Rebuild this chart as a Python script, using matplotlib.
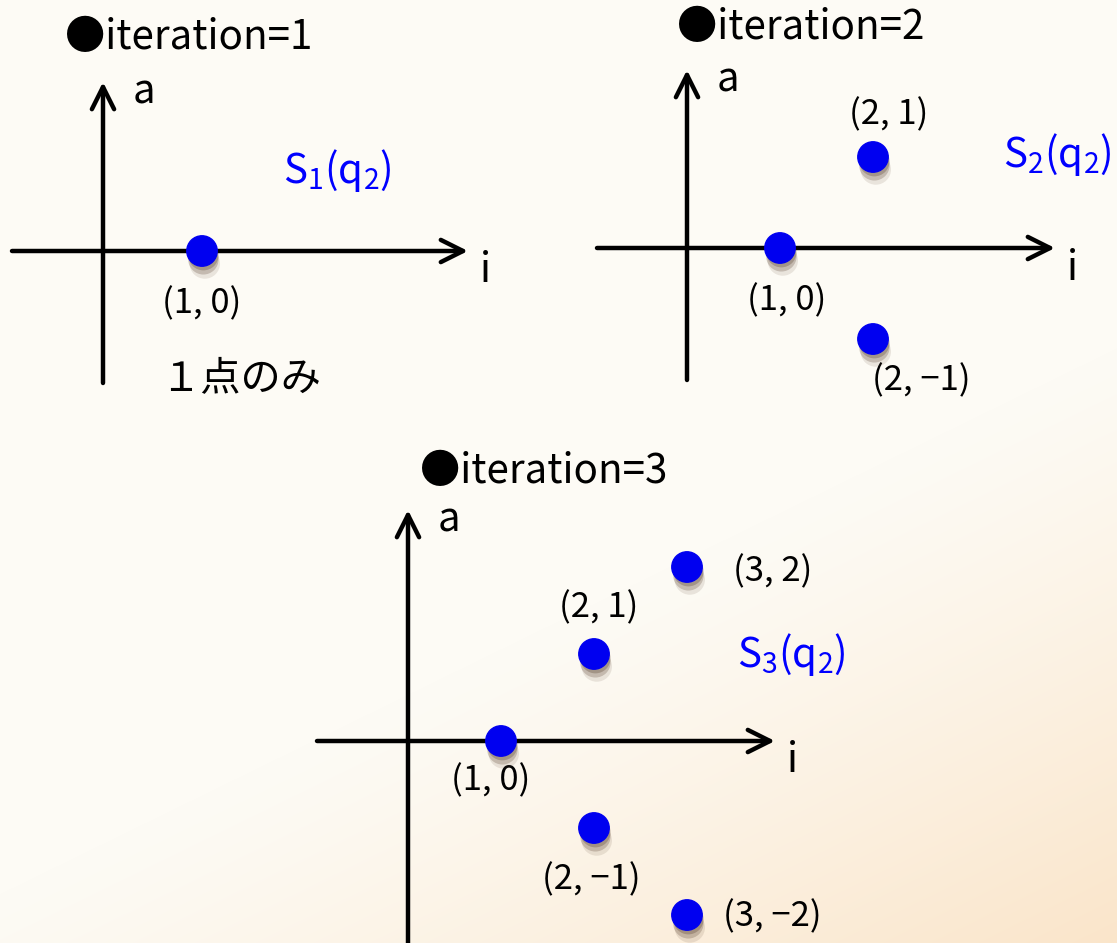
import matplotlib
matplotlib.use("Agg")
import matplotlib.pyplot as plt
import matplotlib.patheffects as pe
import numpy as np

plt.rcParams['font.family'] = ['Noto Sans CJK JP', 'DejaVu Sans']

W, H = 1117, 943

# points of S_n(q2) for each iteration (i, a)
iters = [1, 2, 3]
pts_i = [[1], [1, 2, 2], [1, 2, 2, 3, 3]]
pts_a = [[0], [0, 1, -1], [0, 1, -1, 2, -2]]
notes = ["１点のみ", "", ""]

# panel layout in pixels: origin x, origin y (from top), px per unit i, px per unit a
origin = [(103, 251), (687, 248), (408, 741)]
scale = [(99, 90), (93, 91), (93, 87)]
xaxis_px = [(12, 468), (597, 1055), (317, 775)]
yaxis_px = [(383, 82), (380, 70), (960, 510)]
# label offsets (pixels) for each point
lab_off = [
    [(0, -53)],
    [(7, -53), (16, 42), (48, -42)],
    [(-10, -40), (5, 46), (-3, -52), (86, -5), (85, -2)],
]
title_pos = [(65, 37), (677, 28), (420, 472)]
s_pos = [(283, 170), (1003, 155), (737, 655)]

fig = plt.figure(figsize=(W / 100, H / 100), dpi=100)

# background gradient
bg = fig.add_axes([0, 0, 1, 1])
yy, xx = np.mgrid[0:H, 0:W]
t = np.clip((xx / W * 0.55 + yy / H * 0.95 - 0.9) / 0.6, 0, 1) ** 1.2
c0 = np.array([253, 251, 245]) / 255
c1 = np.array([250, 229, 202]) / 255
img = c0[None, None, :] * (1 - t[..., None]) + c1[None, None, :] * t[..., None]
bg.imshow(img, extent=(0, W, H, 0), aspect='auto')
bg.set_xlim(0, W)
bg.set_ylim(H, 0)
bg.axis('off')

shade = (0.35, 0.25, 0.18)
shadow = [pe.SimplePatchShadow(offset=(1, -3), shadow_rgbFace=shade, alpha=0.3),
          pe.SimplePatchShadow(offset=(1, -6), shadow_rgbFace=shade, alpha=0.25),
          pe.SimplePatchShadow(offset=(2, -9), shadow_rgbFace=shade, alpha=0.12),
          pe.Normal()]

for k in range(3):
    ox, oy = origin[k]
    sx, sy = scale[k]
    ax = fig.add_axes([0, 0, 1, 1])
    ax.set_xlim(-ox / sx, (W - ox) / sx)
    ax.set_ylim((oy - H) / sy, oy / sy)
    ax.axis('off')
    ax.patch.set_alpha(0)

    x0, x1 = [(p - ox) / sx for p in xaxis_px[k]]
    y0, y1 = [(oy - p) / sy for p in yaxis_px[k]]
    arrow = dict(arrowstyle='->', lw=3.2, color='black', mutation_scale=40,
                 shrinkA=0, shrinkB=0)
    ax.annotate('', xy=(x1, 0), xytext=(x0, 0), arrowprops=arrow)
    ax.annotate('', xy=(0, y1), xytext=(0, y0), arrowprops=arrow)
    ax.text(x1 + 12 / sx, -20 / sy, 'i', fontsize=29, ha='left', va='center')
    ax.text(30 / sx, y1 - 10 / sy, 'a', fontsize=29, ha='left', va='center')

    sc = ax.scatter(pts_i[k], pts_a[k], s=480, color='#0000F0', zorder=5)
    sc.set_path_effects(shadow)
    for (pi, pa), off in zip(zip(pts_i[k], pts_a[k]), lab_off[k]):
        lab = f"({pi}, {pa})".replace('-', '−')
        ax.annotate(lab, xy=(pi, pa), xytext=off, textcoords='offset pixels',
                    fontsize=25, ha='center', va='center')

    fig.text(title_pos[k][0] / W, 1 - title_pos[k][1] / H, f"●iteration={iters[k]}",
             fontsize=29, ha='left', va='center')
    fig.text(s_pos[k][0] / W, 1 - s_pos[k][1] / H,
             f"S$_\\mathdefault{{{iters[k]}}}$(q$_\\mathdefault{{2}}$)",
             fontsize=29, color='#0000FF', ha='left', va='center')
    if notes[k]:
        fig.text(160 / W, 1 - 380 / H, notes[k], fontsize=29, ha='left', va='center')

fig.savefig('out.png', dpi=100)
